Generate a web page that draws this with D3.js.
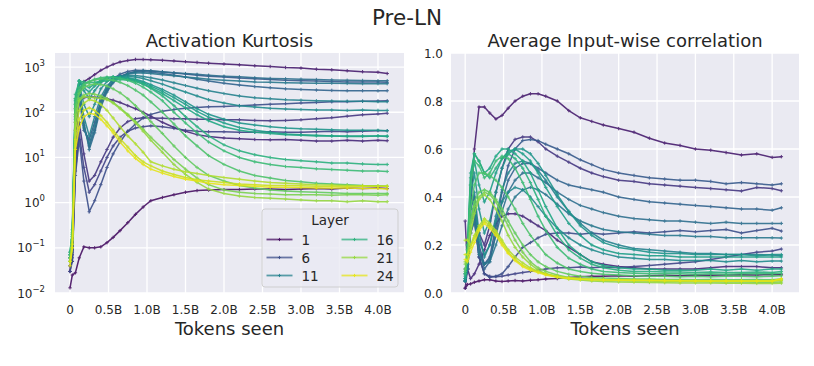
<!DOCTYPE html>
<html>
<head>
<meta charset="utf-8">
<script src="https://cdn.jsdelivr.net/npm/d3@7"></script>
<style>
  body { margin: 0; background: #fff; }
  svg { font-family: "DejaVu Sans", sans-serif; }
</style>
</head>
<body>
<div id="chart"></div>
<script>
// tokens seen (billions) at each logged step
var tokens = [0, 0.03, 0.07, 0.12, 0.18, 0.25, 0.32, 0.4, 0.48, 0.56, 0.65, 0.75, 0.85, 0.95, 1.05, 1.2,
              1.35, 1.5, 1.65, 1.8, 2.0, 2.2, 2.4, 2.6, 2.8, 3.0, 3.2, 3.4, 3.6, 3.8, 4.0, 4.12];

var xTicks = [0, 0.5, 1.0, 1.5, 2.0, 2.5, 3.0, 3.5, 4.0];
var xTickLabels = ["0", "0.5B", "1.0B", "1.5B", "2.0B", "2.5B", "3.0B", "3.5B", "4.0B"];

var kurtTicks = [1e-2, 1e-1, 1e0, 1e1, 1e2, 1e3];
var kurtTickExps = ["\u22122", "\u22121", "0", "1", "2", "3"];
var corrTicks = [0, 0.2, 0.4, 0.6, 0.8, 1.0];
var corrTickLabels = ["0.0", "0.2", "0.4", "0.6", "0.8", "1.0"];

var legendLayers = [1, 6, 11, 16, 21, 24];

// activation kurtosis, one row per layer (1..24)
var kurtosis = [
  [0.013,0.025,0.028,0.06,0.105,0.1,0.1,0.105,0.13,0.17,0.24,0.36,0.55,0.8,1.1,1.3,1.5,1.7,1.85,1.9,1.95,1.95,2.0,2.0,1.95,2.0,2.05,2.0,2.1,2.05,2.1,2.05],
  [0.03,0.09,20,250,480,560,680,850,1000,1150,1300,1400,1480,1470,1450,1410,1370,1320,1270,1220,1170,1120,1070,1030,980,950,900,870,830,790,770,720],
  [0.03,0.07,25,180,210,220,215,210,200,185,165,140,120,100,82,60,46,38,32,29,27,26,25,24.5,25,24,23,23,24,23,24,23.5],
  [0.04,0.05,8,60,12,3,4,8,15,28,45,62,72,76,75,74,72,72,70,70,68,68,66,65,66,68,72,76,82,88,92,95],
  [0.04,0.06,5,35,6,1.7,2.5,5,10,18,28,38,45,48,50,48,44,40,38,37,37,36,36,37,36,36,37,38,37,38,39,39],
  [0.03,0.05,4,25,3,0.63,1.1,2.5,6,12,22,38,55,75,90,105,115,122,128,132,135,140,145,150,155,160,165,170,172,175,178,180],
  [0.05,0.08,40,200,40,25,60,180,350,550,700,800,850,840,820,780,740,700,660,630,600,570,550,530,510,500,490,480,470,470,465,460],
  [0.05,0.1,60,250,50,18,40,150,300,480,620,720,780,790,770,720,660,600,540,490,440,400,370,350,330,320,310,305,300,300,298,300],
  [0.06,0.12,80,300,60,15,35,130,280,450,600,720,800,840,830,790,750,720,690,660,630,610,580,560,550,540,530,520,510,505,500,500],
  [0.05,0.1,70,280,45,20,50,160,320,480,620,700,740,740,720,680,640,600,570,540,510,490,470,460,450,445,440,440,435,430,430,430],
  [0.06,0.12,90,350,80,30,80,220,380,520,620,660,650,620,580,520,450,390,340,300,260,230,210,200,190,185,180,178,176,175,172,172],
  [0.06,0.15,120,420,150,80,150,330,480,580,620,620,600,560,500,420,340,280,230,190,160,140,130,122,118,115,112,112,110,112,110,110],
  [0.07,0.15,150,480,300,200,300,450,560,600,600,580,540,480,410,320,240,170,120,90,70,58,52,48,45,43,42,41,40,40,40,39],
  [0.07,0.18,180,490,350,280,380,500,570,600,590,560,510,450,380,290,210,150,105,78,58,46,40,36,33,32,31,30,30,30,30,29],
  [0.08,0.2,200,500,400,350,420,520,580,600,580,540,490,420,350,260,180,125,88,65,48,40,36,34,32,31,30,30,29,29,30,30],
  [0.08,0.25,250,490,470,450,460,480,500,520,530,520,480,420,340,230,140,80,48,30,19,14,11.5,10,9,8.5,8,7.5,7.5,7.2,7,7],
  [0.07,0.22,200,350,420,480,540,580,600,590,560,510,440,360,280,180,100,58,35,22,14,10,8,7,6.3,6,5.6,5.4,5.2,5,5,4.9],
  [0.06,0.2,150,300,400,470,520,550,540,510,460,390,310,240,170,100,55,30,18,11,7,5,4,3.5,3.1,2.9,2.7,2.6,2.5,2.4,2.35,2.3],
  [0.06,0.18,120,260,350,400,420,410,380,330,270,200,140,95,62,34,18,10,6,4,3,2.4,2.1,1.9,1.8,1.75,1.7,1.65,1.6,1.6,1.6,1.6],
  [0.05,0.15,90,200,240,260,250,230,200,165,125,90,62,42,28,16,9,5.5,3.5,2.5,1.9,1.7,1.6,1.55,1.5,1.5,1.5,1.45,1.5,1.5,1.45,1.5],
  [0.05,0.12,60,180,220,215,210,205,190,160,120,85,58,38,24,13,7,4.2,2.8,2.0,1.6,1.4,1.3,1.25,1.2,1.15,1.1,1.1,1.05,1.1,1.05,1.05],
  [0.05,0.12,40,110,160,190,180,150,110,75,48,30,20,13,8,6.5,5.5,4.8,4.4,4.0,3.6,3.3,3.0,2.8,2.7,2.6,2.5,2.45,2.4,2.35,2.3,2.3],
  [0.05,0.1,25,70,110,125,110,85,60,40,26,17,11,8,6.5,5,4.2,3.6,3.2,3.0,2.8,2.6,2.5,2.4,2.4,2.35,2.3,2.3,2.25,2.3,2.3,2.3],
  [0.04,0.1,15,45,80,95,90,70,50,35,22,14,9.5,7,5.5,4.5,3.8,3.3,3.0,2.7,2.5,2.4,2.3,2.2,2.2,2.15,2.1,2.1,2.1,2.05,2.05,2.0]
];

// average input-wise correlation, one row per layer (1..24)
var correlation = [
  [0.02,0.035,0.038,0.045,0.05,0.055,0.055,0.05,0.048,0.05,0.052,0.05,0.053,0.055,0.058,0.06,0.065,0.068,0.07,0.07,0.072,0.07,0.072,0.074,0.072,0.075,0.074,0.075,0.076,0.075,0.077,0.076],
  [0.02,0.1,0.35,0.6,0.775,0.775,0.75,0.725,0.74,0.77,0.8,0.82,0.83,0.83,0.82,0.8,0.76,0.73,0.715,0.7,0.685,0.67,0.645,0.625,0.615,0.6,0.595,0.585,0.575,0.58,0.565,0.568],
  [0.3,0.1,0.06,0.08,0.12,0.18,0.24,0.29,0.32,0.33,0.33,0.32,0.3,0.28,0.26,0.22,0.19,0.16,0.13,0.12,0.11,0.105,0.1,0.1,0.1,0.1,0.105,0.11,0.11,0.11,0.105,0.105],
  [0.1,0.12,0.3,0.35,0.25,0.2,0.28,0.42,0.52,0.6,0.64,0.65,0.65,0.63,0.6,0.57,0.545,0.52,0.5,0.485,0.47,0.465,0.455,0.45,0.445,0.44,0.435,0.43,0.425,0.44,0.435,0.426],
  [0.08,0.1,0.25,0.3,0.15,0.08,0.07,0.068,0.07,0.075,0.08,0.085,0.09,0.095,0.1,0.105,0.105,0.108,0.105,0.108,0.105,0.11,0.115,0.12,0.125,0.13,0.14,0.15,0.16,0.17,0.175,0.183],
  [0.06,0.1,0.3,0.32,0.15,0.08,0.065,0.07,0.08,0.11,0.15,0.19,0.21,0.23,0.245,0.25,0.25,0.245,0.25,0.245,0.25,0.255,0.25,0.255,0.26,0.255,0.26,0.265,0.25,0.26,0.27,0.258],
  [0.05,0.1,0.35,0.4,0.2,0.12,0.15,0.28,0.42,0.53,0.6,0.635,0.64,0.635,0.62,0.6,0.58,0.555,0.535,0.515,0.5,0.49,0.48,0.475,0.47,0.47,0.465,0.455,0.46,0.455,0.45,0.455],
  [0.05,0.1,0.3,0.35,0.18,0.1,0.13,0.25,0.38,0.47,0.52,0.54,0.54,0.52,0.5,0.47,0.45,0.44,0.43,0.42,0.4,0.39,0.38,0.375,0.37,0.365,0.36,0.355,0.35,0.35,0.345,0.355],
  [0.05,0.1,0.3,0.35,0.17,0.12,0.14,0.24,0.34,0.42,0.47,0.5,0.5,0.48,0.46,0.42,0.39,0.365,0.35,0.335,0.32,0.31,0.305,0.3,0.3,0.295,0.29,0.295,0.29,0.29,0.29,0.29],
  [0.05,0.1,0.25,0.3,0.16,0.12,0.13,0.2,0.28,0.35,0.4,0.43,0.44,0.43,0.41,0.37,0.33,0.3,0.28,0.265,0.255,0.25,0.245,0.24,0.24,0.235,0.235,0.23,0.23,0.23,0.23,0.229],
  [0.05,0.12,0.35,0.42,0.25,0.15,0.2,0.32,0.43,0.5,0.54,0.55,0.54,0.51,0.47,0.4,0.34,0.29,0.25,0.22,0.2,0.185,0.18,0.175,0.17,0.165,0.165,0.16,0.16,0.16,0.158,0.155],
  [0.05,0.12,0.3,0.38,0.22,0.16,0.2,0.3,0.38,0.42,0.44,0.43,0.4,0.36,0.32,0.27,0.23,0.2,0.18,0.165,0.15,0.145,0.14,0.14,0.135,0.135,0.135,0.13,0.135,0.13,0.133,0.133],
  [0.06,0.15,0.4,0.5,0.35,0.25,0.3,0.42,0.52,0.58,0.6,0.6,0.58,0.54,0.49,0.41,0.34,0.28,0.24,0.21,0.19,0.18,0.17,0.165,0.165,0.16,0.16,0.16,0.16,0.155,0.16,0.16],
  [0.06,0.15,0.45,0.55,0.45,0.38,0.42,0.5,0.56,0.59,0.6,0.58,0.55,0.5,0.44,0.36,0.29,0.24,0.2,0.18,0.165,0.16,0.155,0.155,0.15,0.15,0.15,0.15,0.15,0.15,0.15,0.15],
  [0.07,0.18,0.5,0.58,0.55,0.5,0.52,0.57,0.6,0.6,0.58,0.55,0.5,0.43,0.36,0.27,0.2,0.16,0.13,0.115,0.105,0.1,0.1,0.095,0.095,0.095,0.1,0.095,0.1,0.095,0.1,0.1],
  [0.08,0.2,0.48,0.58,0.55,0.5,0.48,0.52,0.56,0.58,0.56,0.52,0.46,0.39,0.32,0.24,0.18,0.145,0.12,0.105,0.095,0.09,0.09,0.088,0.088,0.085,0.088,0.085,0.085,0.088,0.085,0.09],
  [0.08,0.2,0.45,0.55,0.53,0.48,0.5,0.55,0.57,0.56,0.52,0.46,0.39,0.32,0.26,0.19,0.145,0.12,0.1,0.09,0.085,0.082,0.08,0.08,0.08,0.078,0.08,0.078,0.08,0.08,0.08,0.082],
  [0.09,0.18,0.35,0.45,0.5,0.5,0.49,0.47,0.44,0.4,0.35,0.29,0.24,0.2,0.16,0.125,0.1,0.09,0.082,0.078,0.075,0.072,0.07,0.07,0.068,0.07,0.068,0.07,0.07,0.068,0.07,0.072],
  [0.1,0.16,0.3,0.38,0.42,0.43,0.42,0.39,0.35,0.3,0.25,0.2,0.16,0.13,0.11,0.09,0.078,0.07,0.065,0.062,0.06,0.058,0.058,0.056,0.056,0.055,0.056,0.055,0.055,0.056,0.055,0.058],
  [0.12,0.15,0.28,0.36,0.4,0.42,0.41,0.38,0.33,0.28,0.22,0.17,0.13,0.105,0.09,0.075,0.065,0.06,0.056,0.054,0.052,0.05,0.05,0.048,0.048,0.048,0.047,0.046,0.046,0.045,0.045,0.046],
  [0.13,0.14,0.25,0.33,0.39,0.41,0.39,0.35,0.3,0.24,0.19,0.15,0.12,0.095,0.08,0.066,0.058,0.054,0.05,0.048,0.046,0.045,0.044,0.043,0.042,0.042,0.042,0.041,0.041,0.04,0.04,0.041],
  [0.22,0.22,0.2,0.24,0.28,0.31,0.29,0.26,0.22,0.18,0.15,0.125,0.105,0.09,0.08,0.07,0.064,0.06,0.058,0.056,0.055,0.054,0.053,0.052,0.052,0.052,0.051,0.051,0.05,0.05,0.05,0.052],
  [0.16,0.16,0.19,0.23,0.27,0.3,0.28,0.25,0.21,0.17,0.14,0.115,0.1,0.088,0.078,0.068,0.062,0.058,0.056,0.055,0.054,0.053,0.052,0.052,0.051,0.051,0.05,0.05,0.05,0.05,0.05,0.055],
  [0.14,0.13,0.17,0.21,0.26,0.29,0.27,0.24,0.2,0.165,0.135,0.11,0.095,0.085,0.075,0.066,0.06,0.057,0.055,0.054,0.053,0.052,0.052,0.051,0.051,0.05,0.05,0.05,0.05,0.05,0.05,0.06]
];

function layerColor(layer) {
  return d3.interpolateViridis(layer / 25);
}

function init() {
  var svg = d3.select("#chart")
    .append("svg")
    .attr("width", 814)
    .attr("height", 366);

  svg.append("text")
    .attr("x", 407)
    .attr("y", 25)
    .attr("text-anchor", "middle")
    .style("font-size", "21.5px")
    .style("fill", "#262626")
    .text("Pre-LN");

  // left: activation kurtosis (log scale)
  var kurtY = d3.scaleLog().domain([0.01, 2050]).range([293, 53]);
  var left = panel(svg, {
    x0: 55, x1: 404, top: 53, bottom: 293,
    xDomain: [-0.195, 4.338],
    y: kurtY,
    yTicks: kurtTicks,
    title: "Activation Kurtosis",
    series: kurtosis
  });
  left.yAxis.selectAll("text.tick")
    .data(kurtTicks)
    .enter().append("text")
    .attr("class", "tick")
    .attr("x", -10)
    .attr("y", function (d) { return kurtY(d) + 4.5; })
    .attr("text-anchor", "end")
    .style("font-size", "12px")
    .style("fill", "#262626")
    .each(function (d, i) {
      var t = d3.select(this);
      t.append("tspan").text("10");
      t.append("tspan").attr("dy", -6).style("font-size", "8.5px").text(kurtTickExps[i]);
    });

  legend(left.g, 404 - 55, 293 - 53);

  // right: average input-wise correlation
  var corrY = d3.scaleLinear().domain([0, 1]).range([293, 53]);
  var right = panel(svg, {
    x0: 451, x1: 799, top: 53, bottom: 293,
    xDomain: [-0.185, 4.35],
    y: corrY,
    yTicks: corrTicks,
    title: "Average Input-wise correlation",
    series: correlation
  });
  right.yAxis.selectAll("text.tick")
    .data(corrTicks)
    .enter().append("text")
    .attr("class", "tick")
    .attr("x", -8)
    .attr("y", function (d) { return corrY(d) + 4.5; })
    .attr("text-anchor", "end")
    .style("font-size", "12px")
    .style("fill", "#262626")
    .text(function (d, i) { return corrTickLabels[i]; });
}

function panel(svg, o) {
  var width = o.x1 - o.x0, height = o.bottom - o.top;
  var x = d3.scaleLinear().domain(o.xDomain).range([o.x0, o.x1]);
  var y = o.y;

  var root = svg.append("g");
  root.append("rect")
    .attr("x", o.x0).attr("y", o.top)
    .attr("width", width).attr("height", height)
    .style("fill", "#eaeaf2");

  // grid
  root.selectAll("line.vgrid")
    .data(xTicks)
    .enter().append("line")
    .attr("x1", function (d) { return x(d); })
    .attr("x2", function (d) { return x(d); })
    .attr("y1", o.top).attr("y2", o.bottom)
    .style("stroke", "#fff").style("stroke-width", 1.3);
  root.selectAll("line.hgrid")
    .data(o.yTicks)
    .enter().append("line")
    .attr("x1", o.x0).attr("x2", o.x1)
    .attr("y1", function (d) { return y(d); })
    .attr("y2", function (d) { return y(d); })
    .style("stroke", "#fff").style("stroke-width", 1.3);

  // x tick labels
  root.selectAll("text.xtick")
    .data(xTicks)
    .enter().append("text")
    .attr("x", function (d) { return x(d); })
    .attr("y", o.bottom + 21)
    .attr("text-anchor", "middle")
    .style("font-size", "12px")
    .style("fill", "#262626")
    .text(function (d, i) { return xTickLabels[i]; });

  root.append("text")
    .attr("x", (o.x0 + o.x1) / 2)
    .attr("y", o.bottom + 42)
    .attr("text-anchor", "middle")
    .style("font-size", "18px")
    .style("fill", "#262626")
    .text("Tokens seen");

  root.append("text")
    .attr("x", (o.x0 + o.x1) / 2)
    .attr("y", o.top - 6)
    .attr("text-anchor", "middle")
    .style("font-size", "18px")
    .style("fill", "#262626")
    .text(o.title);

  var line = d3.line()
    .x(function (d, i) { return x(tokens[i]); })
    .y(function (d) { return y(d); });

  var plus = "M-1.7,0H1.7M0,-1.7V1.7";

  o.series.forEach(function (vals, k) {
    var c = layerColor(k + 1);
    var s = root.append("g").style("opacity", 0.9);
    s.append("path")
      .datum(vals)
      .attr("d", line)
      .style("fill", "none")
      .style("stroke", c)
      .style("stroke-width", 1.5);
    s.selectAll("path.pt")
      .data(vals)
      .enter().append("path")
      .attr("transform", function (d, i) { return "translate(" + x(tokens[i]) + "," + y(d) + ")"; })
      .attr("d", plus)
      .style("stroke", c)
      .style("stroke-width", 1);
  });

  var yAxis = svg.append("g").attr("transform", "translate(" + o.x0 + ",0)");
  var g = svg.append("g").attr("transform", "translate(" + o.x0 + "," + o.top + ")");
  return { x: x, y: y, yAxis: yAxis, g: g };
}

function legend(g, w, h) {
  var bw = 136, bh = 78;
  var lg = g.append("g").attr("transform", "translate(" + (w - 6 - bw) + "," + (h - 6 - bh) + ")");
  lg.append("rect")
    .attr("width", bw).attr("height", bh)
    .attr("rx", 3)
    .style("fill", "#eaeaf2").style("fill-opacity", 0.8)
    .style("stroke", "#cccccc").style("stroke-width", 0.9);
  lg.append("text")
    .attr("x", bw / 2).attr("y", 16)
    .attr("text-anchor", "middle")
    .style("font-size", "13.5px")
    .style("fill", "#262626")
    .text("Layer");

  var item = lg.selectAll(".item")
    .data(legendLayers)
    .enter().append("g")
    .attr("class", "item")
    .attr("transform", function (d, i) {
      var col = Math.floor(i / 3), row = i % 3;
      return "translate(" + (4.5 + col * 75) + "," + (30.5 + row * 18) + ")";
    });
  item.append("line")
    .attr("x1", 0).attr("x2", 26)
    .style("stroke", function (d) { return layerColor(d); })
    .style("stroke-opacity", 0.75)
    .style("stroke-width", 1.8);
  item.append("path")
    .attr("transform", "translate(13,0)")
    .attr("d", "M-1.6,0H1.6M0,-1.6V1.6")
    .style("stroke", function (d) { return layerColor(d); })
    .style("stroke-width", 0.9);
  item.append("text")
    .attr("x", 35).attr("y", 5)
    .style("font-size", "13.5px")
    .style("fill", "#262626")
    .text(function (d) { return d; });
}

window.onload = init;
</script>
</body>
</html>
